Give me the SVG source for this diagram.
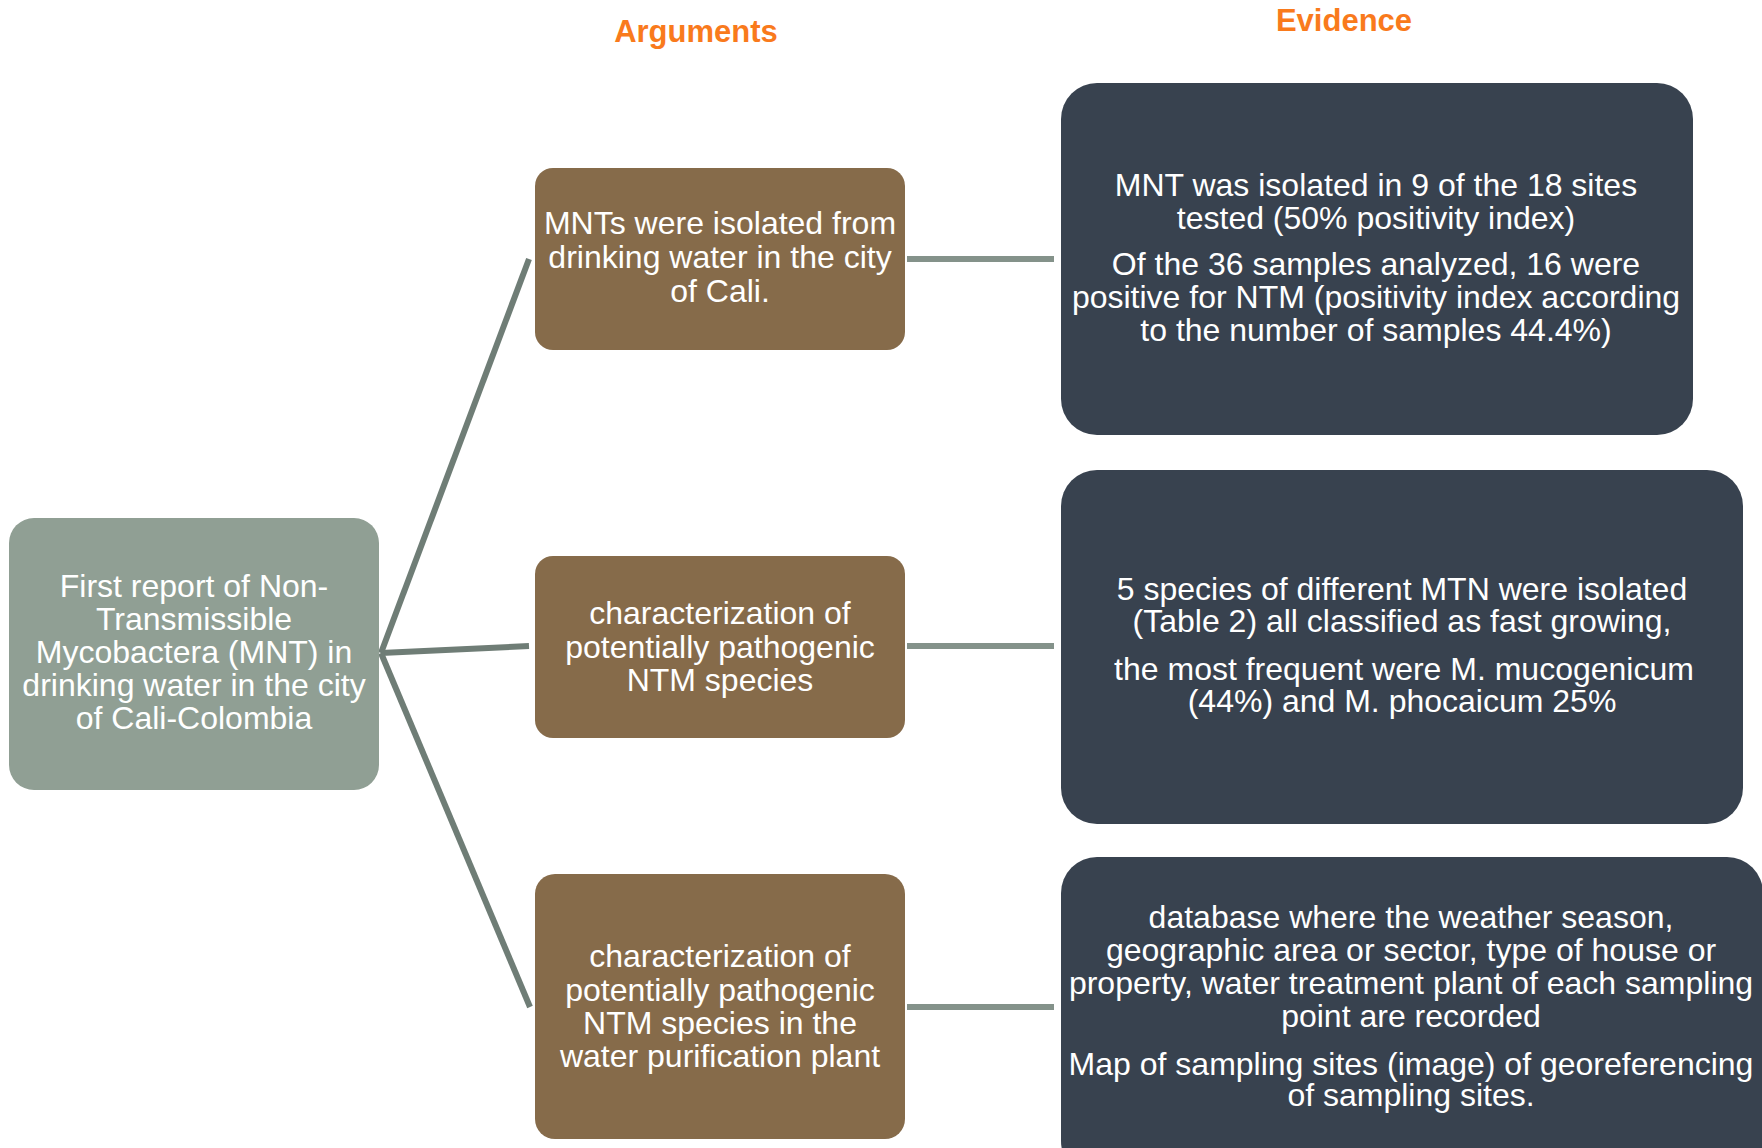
<svg xmlns="http://www.w3.org/2000/svg" width="1762" height="1148" viewBox="0 0 1762 1148">
<style>
  text { font-family: "Liberation Sans", Arial, sans-serif; fill: #ffffff; font-size: 32px; text-anchor: middle; }
  .hdr { fill: #f97a1c; font-weight: bold; font-size: 31px; }
  .root { fill: #909f94; }
  .arg { fill: #866b4a; }
  .ev { fill: #38424f; }
  .spoke { stroke: #6f7d76; stroke-width: 6; fill: none; }
  .link { stroke: #84928a; stroke-width: 6; fill: none; }
</style>
<rect width="1762" height="1148" fill="#ffffff"/>
<g id="headers">
  <text class="hdr" x="696" y="42">Arguments</text>
  <text class="hdr" x="1344" y="31">Evidence</text>
</g>
<g id="connectors">
  <line class="spoke" x1="381" y1="653" x2="529" y2="259"/>
  <line class="spoke" x1="381" y1="653" x2="529" y2="646"/>
  <line class="spoke" x1="381" y1="653" x2="530" y2="1007"/>
  <line class="link" x1="907" y1="259" x2="1054" y2="259"/>
  <line class="link" x1="907" y1="646" x2="1054" y2="646"/>
  <line class="link" x1="907" y1="1007" x2="1054" y2="1007"/>
</g>
<g id="root">
  <rect class="root" x="9" y="518" width="370" height="272" rx="25"/>
  <text x="194" y="597">First report of Non-</text>
  <text x="194" y="630">Transmissible</text>
  <text x="194" y="663">Mycobactera (MNT) in</text>
  <text x="194" y="696">drinking water in the city</text>
  <text x="194" y="729">of Cali-Colombia</text>
</g>
<g id="arg1">
  <rect class="arg" x="535" y="168" width="370" height="182" rx="18"/>
  <text x="720" y="234">MNTs were isolated from</text>
  <text x="720" y="268">drinking water in the city</text>
  <text x="720" y="302">of Cali.</text>
</g>
<g id="arg2">
  <rect class="arg" x="535" y="556" width="370" height="182" rx="18"/>
  <text x="720" y="624">characterization of</text>
  <text x="720" y="658">potentially pathogenic</text>
  <text x="720" y="691">NTM species</text>
</g>
<g id="arg3">
  <rect class="arg" x="535" y="874" width="370" height="265" rx="20"/>
  <text x="720" y="967">characterization of</text>
  <text x="720" y="1001">potentially pathogenic</text>
  <text x="720" y="1034">NTM species in the</text>
  <text x="720" y="1067">water purification plant</text>
</g>
<g id="ev1">
  <rect class="ev" x="1061" y="83" width="632" height="352" rx="36"/>
  <text x="1376" y="196">MNT was isolated in 9 of the 18 sites</text>
  <text x="1376" y="229">tested (50% positivity index)</text>
  <text x="1376" y="275">Of the 36 samples analyzed, 16 were</text>
  <text x="1376" y="308">positive for NTM (positivity index according</text>
  <text x="1376" y="341">to the number of samples 44.4%)</text>
</g>
<g id="ev2">
  <rect class="ev" x="1061" y="470" width="682" height="354" rx="36"/>
  <text x="1402" y="600">5 species of different MTN were isolated</text>
  <text x="1402" y="632">(Table 2) all classified as fast growing,</text>
  <text x="1404" y="680">the most frequent were M. mucogenicum</text>
  <text x="1402" y="712">(44%) and M. phocaicum 25%</text>
</g>
<g id="ev3">
  <rect class="ev" x="1061" y="857" width="702" height="320" rx="36"/>
  <text x="1411" y="928">database where the weather season,</text>
  <text x="1411" y="961">geographic area or sector, type of house or</text>
  <text x="1411" y="994">property, water treatment plant of each sampling</text>
  <text x="1411" y="1027">point are recorded</text>
  <text x="1411" y="1075">Map of sampling sites (image) of georeferencing</text>
  <text x="1411" y="1106">of sampling sites.</text>
</g>
</svg>
